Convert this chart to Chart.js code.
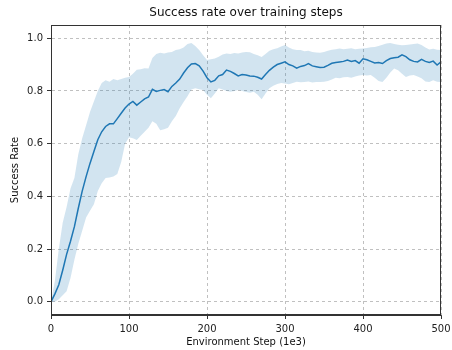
<!DOCTYPE html>
<html>
<head>
<meta charset="utf-8">
<script src="https://cdn.jsdelivr.net/npm/chart.js@4/dist/chart.umd.min.js"></script>
<style>
  html, body { margin: 0; padding: 0; background: #fff; }
  #wrap { width: 452px; height: 350px; }
</style>
</head>
<body>
<div id="wrap"><canvas id="c" width="452" height="350"></canvas></div>
<script>
// Environment steps (thousands)
const steps = [0,5,10,15,20,25,30,35,40,45,50,55,60,65,70,75,80,85,90,95,
  100,105,110,115,120,125,130,135,140,145,150,155,160,165,170,175,180,185,190,195,
  200,205,210,215,220,225,230,235,240,245,250,255,260,265,270,275,280,285,290,295,
  300,305,310,315,320,325,330,335,340,345,350,355,360,365,370,375,380,385,390,395,
  400,405,410,415,420,425,430,435,440,445,450,455,460,465,470,475,480,485,490,495,500];

// Mean success rate
const meanRate = [0.0,0.03,0.065,0.12,0.18,0.23,0.285,0.355,0.42,0.475,0.525,0.57,0.615,0.645,0.665,0.675,0.675,0.695,0.715,0.735,
  0.75,0.76,0.746,0.758,0.77,0.777,0.806,0.798,0.802,0.805,0.797,0.817,0.83,0.845,0.868,0.888,0.902,0.904,0.895,0.875,
  0.85,0.834,0.84,0.857,0.862,0.879,0.874,0.866,0.857,0.862,0.86,0.857,0.856,0.852,0.845,0.862,0.878,0.89,0.9,0.905,
  0.91,0.9,0.895,0.886,0.893,0.896,0.904,0.895,0.892,0.889,0.89,0.897,0.905,0.908,0.91,0.912,0.917,0.912,0.915,0.905,
  0.922,0.918,0.912,0.906,0.908,0.904,0.915,0.923,0.926,0.928,0.937,0.93,0.918,0.912,0.91,0.92,0.912,0.908,0.913,0.898,0.91];

// Upper edge of the spread band
const upperRate = [0.0,0.08,0.2,0.3,0.36,0.43,0.47,0.56,0.62,0.67,0.72,0.76,0.8,0.83,0.84,0.835,0.845,0.84,0.845,0.85,
  0.853,0.865,0.88,0.882,0.886,0.885,0.925,0.94,0.945,0.942,0.946,0.948,0.955,0.958,0.965,0.978,0.982,0.97,0.955,0.935,
  0.917,0.92,0.923,0.93,0.938,0.942,0.94,0.944,0.942,0.946,0.948,0.947,0.94,0.935,0.929,0.94,0.952,0.958,0.962,0.968,
  0.974,0.965,0.958,0.955,0.955,0.95,0.952,0.948,0.946,0.945,0.948,0.952,0.956,0.958,0.961,0.958,0.96,0.962,0.958,0.96,
  0.961,0.963,0.966,0.967,0.97,0.975,0.98,0.982,0.978,0.975,0.973,0.974,0.976,0.978,0.98,0.974,0.965,0.957,0.96,0.956,0.955];

// Lower edge of the spread band
const lowerRate = [0.0,0.0,0.01,0.025,0.04,0.09,0.16,0.22,0.27,0.32,0.345,0.37,0.42,0.45,0.47,0.472,0.475,0.485,0.53,0.6,
  0.624,0.62,0.614,0.63,0.645,0.66,0.685,0.675,0.651,0.655,0.66,0.685,0.705,0.734,0.758,0.78,0.805,0.81,0.806,0.803,
  0.785,0.772,0.79,0.81,0.805,0.8,0.797,0.8,0.803,0.8,0.796,0.793,0.797,0.785,0.768,0.79,0.81,0.82,0.826,0.83,
  0.828,0.825,0.83,0.835,0.833,0.834,0.836,0.832,0.834,0.834,0.835,0.838,0.843,0.85,0.848,0.852,0.853,0.85,0.855,0.858,
  0.86,0.858,0.86,0.85,0.838,0.834,0.85,0.87,0.885,0.878,0.865,0.853,0.858,0.86,0.855,0.848,0.836,0.834,0.84,0.835,0.834];

const xTicks = [0, 100, 200, 300, 400, 500];
const yTicks = [0.0, 0.2, 0.4, 0.6, 0.8, 1.0];
const titleText = 'Success rate over training steps';

const FONT = '"DejaVu Sans", "Liberation Sans", sans-serif';
const BLUE = '#1f77b4';
const BAND = 'rgba(31,119,180,0.2)';

const pts = arr => steps.map((s, i) => ({ x: s, y: arr[i] }));

// Closed box around the plotting area, plus a title centred over it
const frame = {
  id: 'frame',
  afterDatasetsDraw(chart) {
    const { ctx, chartArea: a } = chart;
    ctx.save();
    ctx.strokeStyle = '#333';
    ctx.lineWidth = 1;
    ctx.strokeRect(a.left + 0.5, a.top + 0.5, a.right - a.left - 1, a.bottom - a.top - 1);
    ctx.restore();
  },
  afterDraw(chart) {
    const { ctx, chartArea: a } = chart;
    ctx.save();
    ctx.fillStyle = '#111';
    ctx.font = '12px ' + FONT;
    ctx.textAlign = 'center';
    ctx.textBaseline = 'middle';
    ctx.fillText(titleText, (a.left + a.right) / 2, 12.5);
    ctx.restore();
  }
};

new Chart(document.getElementById('c'), {
  type: 'line',
  data: {
    datasets: [
      { label: 'upper', data: pts(upperRate), borderWidth: 0, borderColor: 'rgba(0,0,0,0)',
        backgroundColor: BAND, fill: '+1', pointRadius: 0, tension: 0, order: 2 },
      { label: 'lower', data: pts(lowerRate), borderWidth: 0, borderColor: 'rgba(0,0,0,0)',
        backgroundColor: BAND, fill: false, pointRadius: 0, tension: 0, order: 2 },
      { label: 'mean', data: pts(meanRate), borderWidth: 1.5, borderColor: BLUE,
        fill: false, pointRadius: 0, tension: 0, order: 1 }
    ]
  },
  options: {
    responsive: false,
    animation: false,
    layout: { padding: { left: 0, right: 11, top: 25, bottom: 0 } },
    plugins: {
      legend: { display: false },
      tooltip: { enabled: false },
      title: { display: false }
    },
    scales: {
      x: {
        type: 'linear',
        min: 0, max: 500,
        afterBuildTicks: s => { s.ticks = xTicks.map(v => ({ value: v })); },
        afterFit: s => { s.height = 35; s.paddingLeft = 0; s.paddingRight = 0; },
        ticks: { color: '#222', font: { family: FONT, size: 10 }, padding: 4, maxRotation: 0,
                 callback: v => String(v) },
        grid: { color: '#b0b0b0', lineWidth: 0.8, drawTicks: true, tickLength: 4,
                tickColor: '#333', tickWidth: 1 },
        border: { display: true, color: '#333', width: 1, dash: [3, 3] },
        title: { display: true, text: 'Environment Step (1e3)', color: '#111',
                 font: { family: FONT, size: 10 }, padding: { top: 0, bottom: 2 } }
      },
      y: {
        min: -0.05, max: 1.05,
        afterBuildTicks: s => { s.ticks = yTicks.map(v => ({ value: v })); },
        afterFit: s => { s.width = 51; s.paddingTop = 0; s.paddingBottom = 0; },
        ticks: { color: '#222', font: { family: FONT, size: 10 }, padding: 4,
                 callback: v => Number(v).toFixed(1) },
        grid: { color: '#b0b0b0', lineWidth: 0.8, drawTicks: true, tickLength: 4,
                tickColor: '#333', tickWidth: 1 },
        border: { display: true, color: '#333', width: 1, dash: [3, 3] },
        title: { display: true, text: 'Success Rate', color: '#111',
                 font: { family: FONT, size: 10 }, padding: { top: 9, bottom: 0 } }
      }
    }
  },
  plugins: [frame]
});
</script>
</body>
</html>
